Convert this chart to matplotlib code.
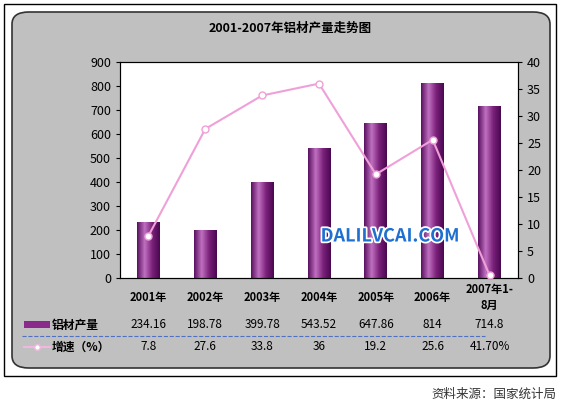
import matplotlib
matplotlib.use("Agg")
import matplotlib.pyplot as plt
import numpy as np
from matplotlib.patches import FancyBboxPatch, Rectangle
import matplotlib.patheffects as pe
from matplotlib.colors import LinearSegmentedColormap

plt.rcParams['font.family'] = ['Noto Sans CJK SC', 'DejaVu Sans']

categories = ['2001年', '2002年', '2003年', '2004年', '2005年', '2006年', '2007年1-\n8月']
output = [234.16, 198.78, 399.78, 543.52, 647.86, 814, 714.8]
growth_labels = ['7.8', '27.6', '33.8', '36', '19.2', '25.6', '41.70%']
growth_plot = [7.8, 27.6, 33.8, 36, 19.2, 25.6, 0.5]
output_labels = ['234.16', '198.78', '399.78', '543.52', '647.86', '814', '714.8']

W, H = 564, 404
fig = plt.figure(figsize=(W/100, H/100), dpi=100)
fig.patch.set_facecolor('white')

def fx(x): return x / W
def fy(y): return 1 - y / H

fig.patches.append(Rectangle((fx(4), fy(376)), fx(556)-fx(4), fy(4)-fy(376), transform=fig.transFigure,
                             fill=False, edgecolor='black', linewidth=1, zorder=0))
fig.patches.append(FancyBboxPatch((fx(12), fy(368)), fx(550)-fx(12), fy(12)-fy(368),
                                  boxstyle="round,pad=0,rounding_size=0.03", transform=fig.transFigure,
                                  facecolor='#c0c0c0', edgecolor='#333333', linewidth=1.2, zorder=0))

ax = fig.add_axes([fx(120), fy(278), fx(518)-fx(120), fy(62)-fy(278)])
ax.set_zorder(2)
ax.set_facecolor('white')
x = np.arange(len(categories))
bars = ax.bar(x, output, width=0.4, color='#8a2a8a', zorder=2)
cmap = LinearSegmentedColormap.from_list('p', ['#5a1060', '#c070c0', '#7a207a', '#4a0850'])
grad = np.linspace(0, 1, 64).reshape(1, -1)
for b in bars:
    im = ax.imshow(grad, cmap=cmap, aspect='auto', zorder=2,
                   extent=[b.get_x(), b.get_x()+b.get_width(), 0, b.get_height()])
    im.set_clip_path(b)
ax.set_xlim(-0.5, 6.5)
ax.set_ylim(0, 900)
ax.set_yticks(range(0, 901, 100))
ax.set_xticks([])
ax.tick_params(labelsize=9, length=3)
for s in ax.spines.values():
    s.set_color('#333333'); s.set_linewidth(0.8)

ax2 = ax.twinx()
ax2.set_zorder(3)
ax2.plot(x, growth_plot, color='#f0a0d8', linewidth=1.5, marker='o', markersize=5,
         markerfacecolor='white', markeredgecolor='#f0a0d8', zorder=3)
ax2.set_ylim(0, 40)
ax2.set_yticks(range(0, 41, 5))
ax2.tick_params(labelsize=9, length=3)
ax2.set_xlim(-0.5, 6.5)

fig.text(fx(290), fy(28), '2001-2007年铝材产量走势图', ha='center', va='center', fontsize=9, fontweight='bold')

fig.text(fx(390), fy(236), 'DALILVCAI.COM', ha='center', va='center', fontsize=13, fontweight='bold',
         color='#1e6fd0', zorder=10, path_effects=[pe.withStroke(linewidth=2.5, foreground='white')])

colw = (518 - 120) / 7
for i in range(7):
    cx = fx(120 + colw * (i + 0.5))
    fig.text(cx, fy(297), categories[i], ha='center', va='center', fontsize=8, fontweight='bold', linespacing=1.3)
    fig.text(cx, fy(325), output_labels[i], ha='center', va='center', fontsize=8.5)
    fig.text(cx, fy(347), growth_labels[i], ha='center', va='center', fontsize=8.5)

fig.lines.append(plt.Line2D([fx(22), fx(485)], [fy(336), fy(336)], transform=fig.transFigure,
                            color='#5070c0', linestyle='--', linewidth=0.8))
fig.patches.append(Rectangle((fx(24), fy(328)), fx(26), fy(321)-fy(328), transform=fig.transFigure,
                             facecolor='#8a2a8a', edgecolor='none'))
fig.lines.append(plt.Line2D([fx(24), fx(50)], [fy(347), fy(347)], transform=fig.transFigure,
                            color='#f0b8e0', linewidth=1.5))
fig.lines.append(plt.Line2D([fx(37)], [fy(347)], transform=fig.transFigure, marker='o', markersize=4,
                            markerfacecolor='white', markeredgecolor='#f0b8e0'))
fig.text(fx(52), fy(325), '铝材产量', ha='left', va='center', fontsize=8.5, fontweight='bold')
fig.text(fx(52), fy(347), '增速（%）', ha='left', va='center', fontsize=8.5, fontweight='bold')

fig.text(fx(556), fy(394), '资料来源：国家统计局', ha='right', va='center', fontsize=9, color='#333333')

fig.savefig('out.png', dpi=100)
